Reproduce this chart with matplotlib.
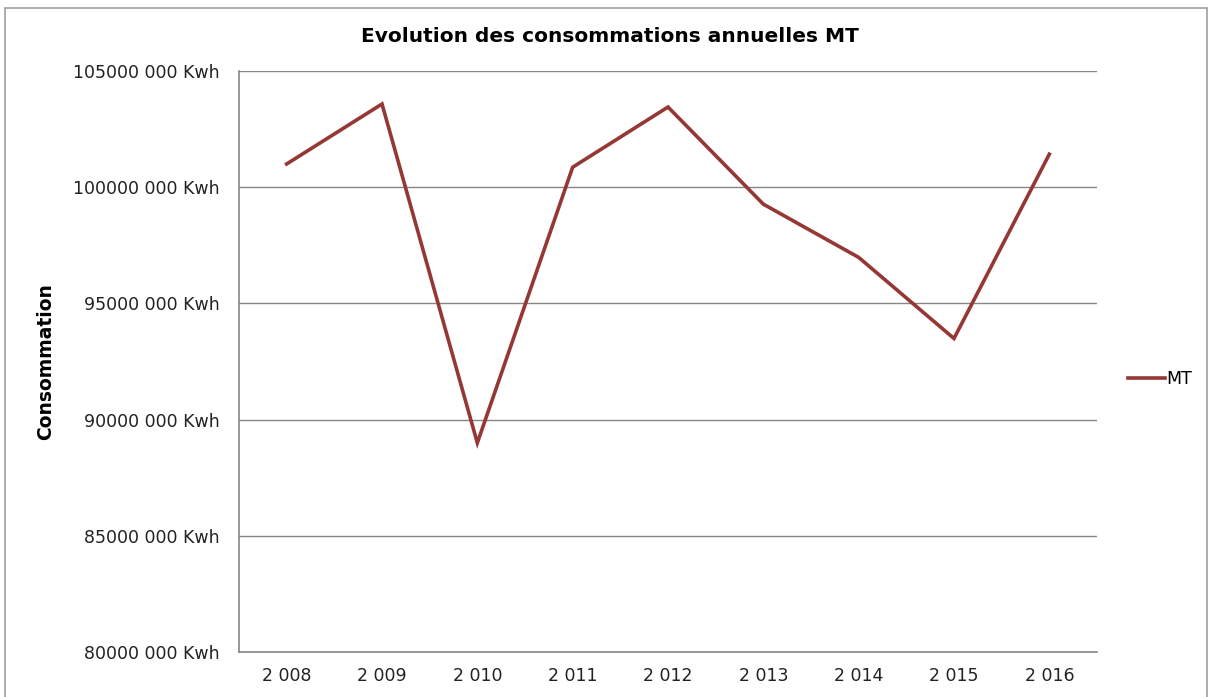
import matplotlib.pyplot as plt
import matplotlib.patches as patches
from matplotlib.ticker import FuncFormatter

years = [2008, 2009, 2010, 2011, 2012, 2013, 2014, 2015, 2016]
year_labels = ["2 008", "2 009", "2 010", "2 011", "2 012", "2 013", "2 014", "2 015", "2 016"]
mt_values = [101.0e6, 103.58e6, 89.0e6, 100.86e6, 103.45e6, 99.27e6, 96.98e6, 93.49e6, 101.42e6]

LINE_COLOR = "#953735"
GRID_COLOR = "#868686"


def kwh_format(v, pos):
    millions = int(round(v / 1e6))
    return f"{millions * 1000} 000 Kwh"


fig = plt.figure(figsize=(12.11, 6.97), dpi=100)
fig.patch.set_facecolor("white")

# outer chart border
fig.patches.append(patches.Rectangle((5 / 1211, -0.01), 1202 / 1211, 1 - 8 / 697 + 0.01,
                                     transform=fig.transFigure, fill=False,
                                     edgecolor="#a0a0a0", linewidth=1.2))

ax = fig.add_axes([239 / 1211, 1 - 652 / 697, (1097 - 239) / 1211, (652 - 71) / 697])

x = list(range(len(years)))
ax.plot(x, mt_values, color=LINE_COLOR, linewidth=2.6, label="MT", solid_joinstyle="miter")

ax.set_xlim(-0.5, len(years) - 0.5)
ax.set_ylim(80e6, 105e6)
ax.set_yticks([80e6, 85e6, 90e6, 95e6, 100e6, 105e6])
ax.yaxis.set_major_formatter(FuncFormatter(kwh_format))
ax.set_xticks(x)
ax.set_xticklabels(year_labels)

ax.grid(axis="y", color=GRID_COLOR, linewidth=1)
ax.set_axisbelow(True)
for side in ["top", "right"]:
    ax.spines[side].set_visible(False)
for side in ["left", "bottom"]:
    ax.spines[side].set_color(GRID_COLOR)
    ax.spines[side].set_linewidth(1.2)

ax.tick_params(axis="both", length=0, labelsize=12.5, colors="#222222")
ax.tick_params(axis="y", pad=14)
ax.tick_params(axis="x", pad=11)

ax.set_ylabel("Consommation", fontsize=13.5, fontweight="bold", labelpad=13)

# title is centred on the whole chart, not on the plot area
fig.text(610 / 1211, 1 - 37 / 697, "Evolution des consommations annuelles MT",
         fontsize=14.5, fontweight="bold", ha="center", va="center")

ax.legend(loc="center left", bbox_to_anchor=(1.018, 0.47), frameon=False,
          fontsize=12.5, handlelength=2.1, handletextpad=0.1)

fig.savefig("out.png", dpi=100)
